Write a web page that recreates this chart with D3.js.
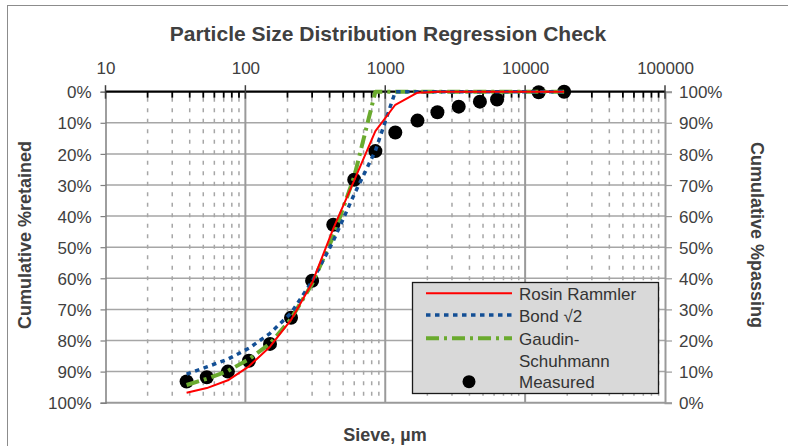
<!DOCTYPE html>
<html>
<head>
<meta charset="utf-8">
<script src="https://cdn.jsdelivr.net/npm/d3@7"></script>
<style>
  html, body { margin: 0; padding: 0; background: #fff; }
  svg { display: block; font-family: "Liberation Sans", Arial, sans-serif; }
</style>
</head>
<body>
<svg id="chart" width="788" height="446"></svg>
<script>
// ---- data ----
const sieveSizes = [38, 53, 75, 106, 150, 212, 300, 425, 600, 850, 1180, 1700, 2360, 3350, 4750, 6300, 12500, 19000];
const measured     = [93.2, 91.8, 90.0, 86.5, 81.1, 72.7, 60.8, 42.8, 28.3, 19.1, 13.1, 9.3, 6.6, 4.8, 3.2, 2.5, 0.2, 0];
const rosinRammler = [96.8, 95.3, 92.8, 88.3, 82.0, 73.4, 61.5, 44.0, 28.5, 12.7, 4.2, 0.3, 0, 0, 0, 0, 0, 0];
const bondRoot2    = [90.8, 88.5, 86.0, 82.5, 77.7, 71.2, 61.0, 48.0, 33.0, 19.0, 0, 0, 0, 0, 0, 0, 0, 0];
const gaudinSchuh  = [94.3, 92.3, 89.8, 86.0, 81.0, 73.0, 61.8, 46.5, 27.3, 0, 0, 0, 0, 0, 0, 0, 0, 0];
const xMajorTicks = [10, 100, 1000, 10000, 100000];
const yTicks = [0, 10, 20, 30, 40, 50, 60, 70, 80, 90, 100];
const chartTitle = "Particle Size Distribution Regression Check";
const xTitle = "Sieve, \u00b5m";
const yLeftTitle = "Cumulative %retained";
const yRightTitle = "Cumulative %passing";
const legendLabels = ["Rosin Rammler", "Bond \u221a2", ["Gaudin-", "Schuhmann"], "Measured"];

// ---- layout ----
const svg = d3.select("#chart");
const L = 105.5, R = 665, T = 91.7, B = 402.7;
const x = d3.scaleLog().domain([10, 100000]).range([L, R]);
const y = d3.scaleLinear().domain([0, 100]).range([T, B]);
const yPass = d3.scaleLinear().domain([100, 0]).range([T, B]);
const textCol = "#404040";
const gridCol = "#a6a6a6";

// chart border
svg.append("rect").attr("x", 7.5).attr("y", 5.5).attr("width", 900).attr("height", 600)
  .attr("fill", "none").attr("stroke", "#8c8c8c").attr("stroke-width", 1);

// title
svg.append("text").attr("x", 388).attr("y", 41).attr("text-anchor", "middle")
  .attr("font-size", 21).attr("font-weight", "bold").attr("fill", textCol).text(chartTitle);

// minor x values
const minorVals = [];
for (let d = 10; d < 100000; d *= 10) for (let k = 2; k <= 9; k++) minorVals.push(k * d);

const grid = svg.append("g");
// horizontal gridlines
grid.selectAll("line.h").data(yTicks.filter(v => v > 0 && v < 100)).join("line")
  .attr("x1", L).attr("x2", R).attr("y1", d => y(d)).attr("y2", d => y(d))
  .attr("stroke", gridCol).attr("stroke-width", 1.5);
// minor vertical dashed gridlines
grid.selectAll("line.m").data(minorVals).join("line")
  .attr("x1", d => x(d)).attr("x2", d => x(d)).attr("y1", T + 6).attr("y2", B)
  .attr("stroke", gridCol).attr("stroke-width", 1.5).attr("stroke-dasharray", "4,6.5");
// major vertical gridlines
grid.selectAll("line.M").data([100, 1000, 10000]).join("line")
  .attr("x1", d => x(d)).attr("x2", d => x(d)).attr("y1", T).attr("y2", B)
  .attr("stroke", "#9a9a9a").attr("stroke-width", 2);

// bottom axis line
svg.append("line").attr("x1", L).attr("x2", R + 1).attr("y1", B).attr("y2", B)
  .attr("stroke", "#9a9a9a").attr("stroke-width", 2);

// left axis
const gl = svg.append("g").attr("transform", `translate(${L},0)`)
  .call(d3.axisLeft(y).tickValues(yTicks).tickFormat(d => d + "%").tickSize(5).tickPadding(9));
gl.select(".domain").attr("stroke", "#7f7f7f").attr("stroke-width", 1.5);
gl.selectAll(".tick line").attr("stroke", "#7f7f7f").attr("stroke-width", 1.2);
gl.selectAll(".tick text").attr("font-size", 17).attr("fill", textCol)
  .attr("font-family", "Liberation Sans, Arial, sans-serif").attr("dy", "0.36em");

// right axis
const gr = svg.append("g").attr("transform", `translate(${R},0)`)
  .call(d3.axisRight(yPass).tickValues(yTicks).tickFormat(d => d + "%").tickSize(7).tickPadding(7));
gr.select(".domain").attr("stroke", "#9a9a9a").attr("stroke-width", 2);
gr.selectAll(".tick line").attr("stroke", "#9a9a9a").attr("stroke-width", 1.2);
gr.selectAll(".tick text").attr("font-size", 17).attr("fill", textCol)
  .attr("font-family", "Liberation Sans, Arial, sans-serif").attr("dy", "0.36em");

// top axis (labels)
const gt = svg.append("g").attr("transform", `translate(0,${T})`)
  .call(d3.axisTop(x).tickValues(xMajorTicks).tickFormat(d3.format("d")).tickSize(0).tickPadding(17.5));
gt.select(".domain").remove();
gt.selectAll(".tick text").attr("font-size", 17).attr("fill", textCol)
  .attr("font-family", "Liberation Sans, Arial, sans-serif");

// top axis line and ticks
svg.append("line").attr("x1", L).attr("x2", R).attr("y1", T).attr("y2", T)
  .attr("stroke", "#000").attr("stroke-width", 2.2);
svg.selectAll("line.tmin").data(minorVals).join("line")
  .attr("x1", d => x(d)).attr("x2", d => x(d)).attr("y1", T).attr("y2", T + 6)
  .attr("stroke", "#000").attr("stroke-width", 1.8);
svg.selectAll("line.tmaj").data(xMajorTicks).join("line")
  .attr("x1", d => x(d)).attr("x2", d => x(d)).attr("y1", T - 6.5).attr("y2", T + 7)
  .attr("stroke", "#404040").attr("stroke-width", 1.5);

// axis titles
svg.append("text").attr("transform", `translate(31,${235}) rotate(-90)`).attr("text-anchor", "middle")
  .attr("font-size", 18).attr("font-weight", "bold").attr("fill", textCol).text(yLeftTitle);
svg.append("text").attr("transform", `translate(751,${235}) rotate(90)`).attr("text-anchor", "middle")
  .attr("font-size", 18).attr("font-weight", "bold").attr("fill", textCol).text(yRightTitle);
svg.append("text").attr("x", 385).attr("y", 441).attr("text-anchor", "middle")
  .attr("font-size", 18).attr("font-weight", "bold").attr("fill", textCol).text(xTitle);

// ---- series ----
const series = [
  { name: "Rosin Rammler", vals: rosinRammler, color: "#ff0000", width: 2, dash: null },
  { name: "Bond", vals: bondRoot2, color: "#134f95", width: 3.5, dash: "4.5,4.5" },
  { name: "Gaudin", vals: gaudinSchuh, color: "#6aaa2e", width: 4, dash: "13,5,3,5" }
];
const pts = sieveSizes.map((s, i) => ({ s, v: measured[i] }));
svg.append("g").selectAll("circle").data(pts).join("circle")
  .attr("cx", d => x(d.s)).attr("cy", d => y(d.v)).attr("r", 7).attr("fill", "#000");

const line = d3.line().x(d => x(d[0])).y(d => y(d[1]));
// draw order: Gaudin, Bond, Rosin on top
[series[2], series[1], series[0]].forEach(sr => {
  const p = svg.append("path").datum(sieveSizes.map((s, i) => [s, sr.vals[i]]))
    .attr("d", line).attr("fill", "none").attr("stroke", sr.color)
    .attr("stroke-width", sr.width).attr("stroke-linejoin", "round");
  if (sr.dash) p.attr("stroke-dasharray", sr.dash);
});

// ---- legend ----
const lg = svg.append("g");
lg.append("rect").attr("x", 412.5).attr("y", 282.5).attr("width", 246).attr("height", 111)
  .attr("fill", "#d9d9d9").attr("stroke", "#1a1a1a").attr("stroke-width", 1.3);
const symX1 = 426, symX2 = 512, txtX = 519;
const rowY = [293.3, 315, 338.3, 381.7];
series.forEach((sr, i) => {
  const l = lg.append("line").attr("x1", symX1).attr("x2", symX2).attr("y1", rowY[i]).attr("y2", rowY[i])
    .attr("stroke", sr.color).attr("stroke-width", sr.width);
  if (sr.dash) l.attr("stroke-dasharray", sr.dash);
});
lg.append("circle").attr("cx", 469).attr("cy", rowY[3]).attr("r", 6.5).attr("fill", "#000");
const legendBase = [[299.5], [321.7], [345, 366.5], [388.3]];
legendLabels.forEach((lab, i) => {
  const lines = Array.isArray(lab) ? lab : [lab];
  lines.forEach((t, j) => {
    lg.append("text").attr("x", txtX).attr("y", legendBase[i][j]).attr("font-size", 17)
      .attr("fill", "#333").text(t);
  });
});
</script>
</body>
</html>
